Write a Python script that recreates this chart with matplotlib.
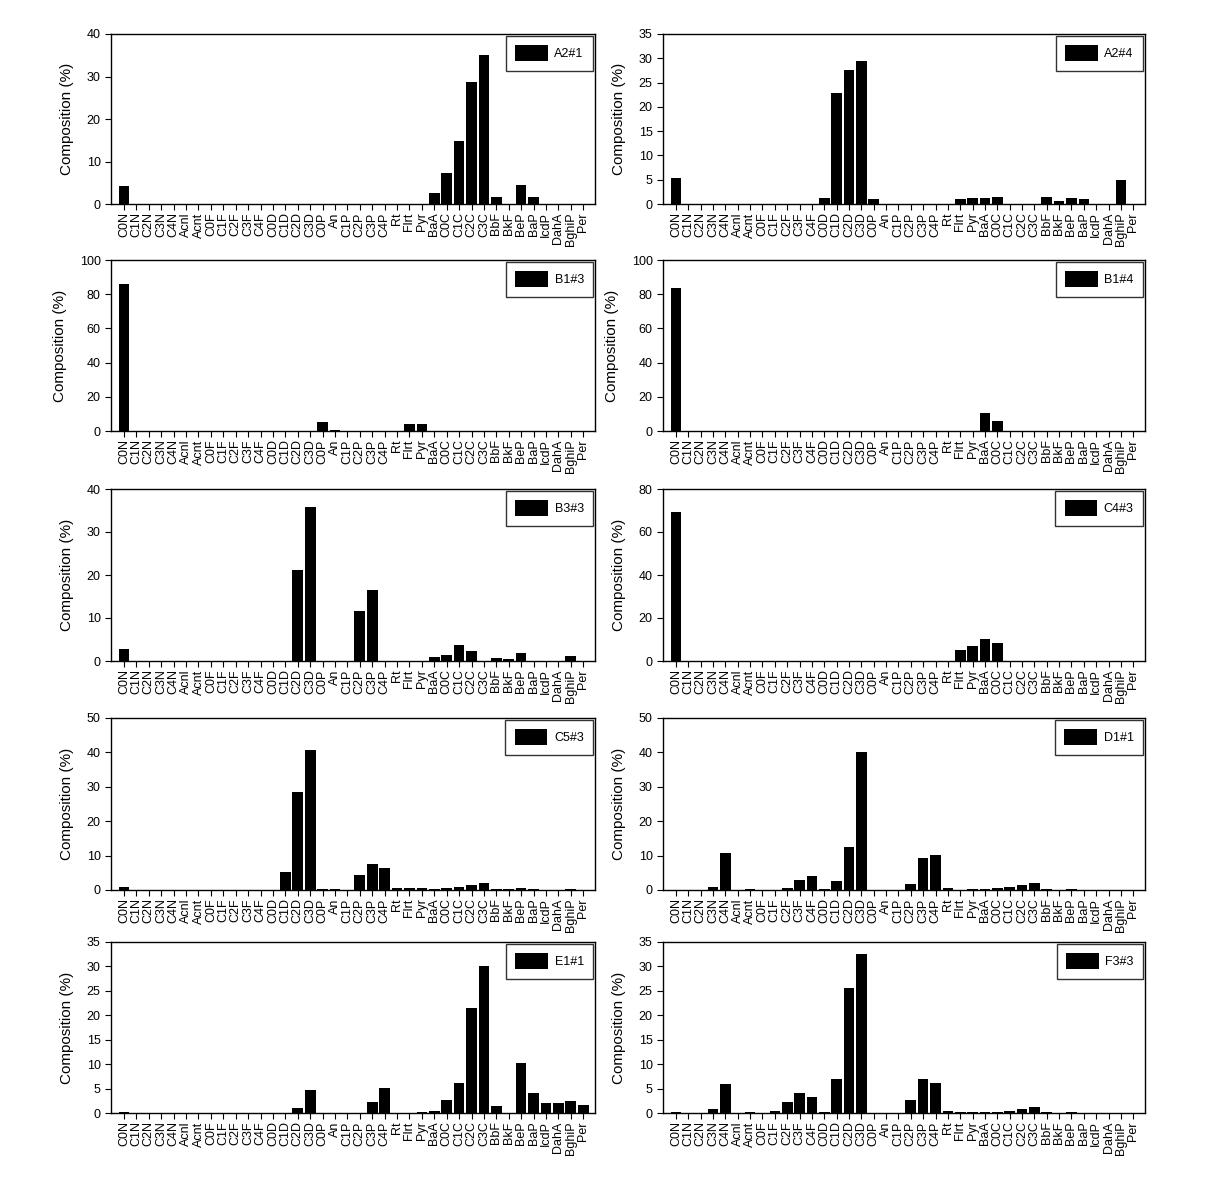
import matplotlib.pyplot as plt
import numpy as np

plt.rcParams['font.family'] = ['Liberation Sans', 'DejaVu Sans']

compounds = ['C0N', 'C1N', 'C2N', 'C3N', 'C4N', 'Acnl', 'Acnt', 'C0F', 'C1F', 'C2F',
             'C3F', 'C4F', 'C0D', 'C1D', 'C2D', 'C3D', 'C0P', 'An', 'C1P', 'C2P',
             'C3P', 'C4P', 'Rt', 'Flrt', 'Pyr', 'BaA', 'C0C', 'C1C', 'C2C', 'C3C',
             'BbF', 'BkF', 'BeP', 'BaP', 'IcdP', 'DahA', 'BghiP', 'Per']

# composition (%) per sample, same order as compounds
a2_1 = [4.3, 0, 0, 0, 0, 0, 0, 0, 0, 0, 0, 0, 0, 0, 0, 0, 0, 0, 0, 0,
        0, 0, 0, 0, 0, 2.6, 7.3, 14.8, 28.7, 35.1, 1.6, 0, 4.5, 1.6, 0, 0, 0, 0]
a2_4 = [5.4, 0, 0, 0, 0, 0, 0, 0, 0, 0, 0, 0, 1.2, 22.9, 27.6, 29.4, 1.0, 0, 0, 0,
        0, 0, 0, 1.0, 1.2, 1.2, 1.4, 0, 0, 0, 1.4, 0.6, 1.2, 1.0, 0, 0, 4.9, 0]
b1_3 = [86.0, 0, 0, 0, 0, 0, 0, 0, 0, 0, 0, 0, 0, 0, 0, 0, 5.3, 0.6, 0, 0,
        0, 0, 0, 4.3, 4.3, 0, 0, 0, 0, 0, 0, 0, 0, 0, 0, 0, 0, 0]
b1_4 = [83.8, 0, 0, 0, 0, 0, 0, 0, 0, 0, 0, 0, 0, 0, 0, 0, 0, 0, 0, 0,
        0, 0, 0, 0, 0, 10.5, 5.9, 0, 0, 0, 0, 0, 0, 0, 0, 0, 0, 0]
b3_3 = [2.8, 0, 0, 0, 0, 0, 0, 0, 0, 0, 0, 0, 0, 0, 21.2, 35.7, 0, 0, 0, 11.7,
        16.4, 0, 0, 0, 0, 0.9, 1.4, 3.7, 2.3, 0, 0.7, 0.5, 1.9, 0, 0, 0, 1.2, 0]
c4_3 = [69.2, 0, 0, 0, 0, 0, 0, 0, 0, 0, 0, 0, 0, 0, 0, 0, 0, 0, 0, 0,
        0, 0, 0, 5.1, 7.0, 10.3, 8.4, 0, 0, 0, 0, 0, 0, 0, 0, 0, 0, 0]
c5_3 = [0.9, 0, 0, 0, 0, 0, 0, 0, 0, 0, 0, 0, 0, 5.2, 28.5, 40.8, 0.3, 0.3, 0, 4.4,
        7.6, 6.4, 0.6, 0.6, 0.6, 0.3, 0.6, 0.9, 1.5, 2.0, 0.3, 0.3, 0.6, 0.3, 0, 0, 0.3, 0]
d1_1 = [0, 0, 0, 0.9, 10.8, 0, 0.3, 0, 0, 0.6, 2.9, 4.1, 0.3, 2.6, 12.4, 40.0, 0, 0, 0, 1.8,
        9.3, 10.2, 0.6, 0, 0.3, 0.3, 0.6, 0.9, 1.5, 2.0, 0.3, 0, 0.3, 0, 0, 0, 0, 0]
e1_1 = [0.3, 0, 0, 0, 0, 0, 0, 0, 0, 0, 0, 0, 0, 0, 1.0, 4.8, 0, 0, 0, 0,
        2.3, 5.1, 0, 0, 0.2, 0.5, 2.7, 6.2, 21.5, 30.1, 1.5, 0, 10.3, 4.1, 2.1, 2.1, 2.5, 1.7]
f3_3 = [0.2, 0, 0, 0.8, 5.9, 0, 0.2, 0, 0.4, 2.3, 4.0, 3.3, 0.2, 6.9, 25.6, 32.6, 0, 0, 0, 2.6,
        7.0, 6.1, 0.4, 0.2, 0.2, 0.2, 0.3, 0.5, 0.9, 1.2, 0.2, 0, 0.2, 0, 0, 0, 0, 0]

samples = ['A2#1', 'A2#4', 'B1#3', 'B1#4', 'B3#3', 'C4#3', 'C5#3', 'D1#1', 'E1#1', 'F3#3']
values = [a2_1, a2_4, b1_3, b1_4, b3_3, c4_3, c5_3, d1_1, e1_1, f3_3]
ymax = [40, 35, 100, 100, 40, 80, 50, 50, 35, 35]
ystep = [10, 5, 20, 20, 10, 20, 10, 10, 5, 5]

W, H = 1212, 1187
fig = plt.figure(figsize=(W / 100, H / 100), dpi=100)

# axes edges in pixels (left/right per column, top/bottom per row)
col_x = [(111, 595), (663, 1145)]
row_y = [(34, 204), (260, 431), (489, 661), (718, 890), (942, 1113)]

x = np.arange(len(compounds))
for k, (name, vals) in enumerate(zip(samples, values)):
    r, c = divmod(k, 2)
    x0, x1 = col_x[c]
    y0, y1 = row_y[r]
    ax = fig.add_axes([x0 / W, 1 - y1 / H, (x1 - x0) / W, (y1 - y0) / H])
    ax.bar(x, vals, width=0.86, color='black', label=name)
    ax.set_xlim(-1.05, 37.95)
    ax.set_ylim(0, ymax[k])
    ax.set_yticks(np.arange(0, ymax[k] + 0.1, ystep[k]))
    ax.set_xticks(x)
    ax.set_xticklabels(compounds, rotation=90, fontsize=9)
    ax.tick_params(axis='y', labelsize=9, length=4, direction='out')
    ax.tick_params(axis='x', length=4, direction='out', pad=2)
    ax.set_ylabel('Composition (%)', fontsize=11, labelpad=9)
    for s in ax.spines.values():
        s.set_linewidth(1.0)
    leg = ax.legend(loc='upper right', fontsize=9, frameon=True, fancybox=False,
                    handlelength=2.6, handleheight=1.6, borderaxespad=0.15,
                    borderpad=0.75, handletextpad=0.55)
    leg.get_frame().set_edgecolor('black')
    leg.get_frame().set_linewidth(1.0)

plt.savefig('out.png', dpi=100)
